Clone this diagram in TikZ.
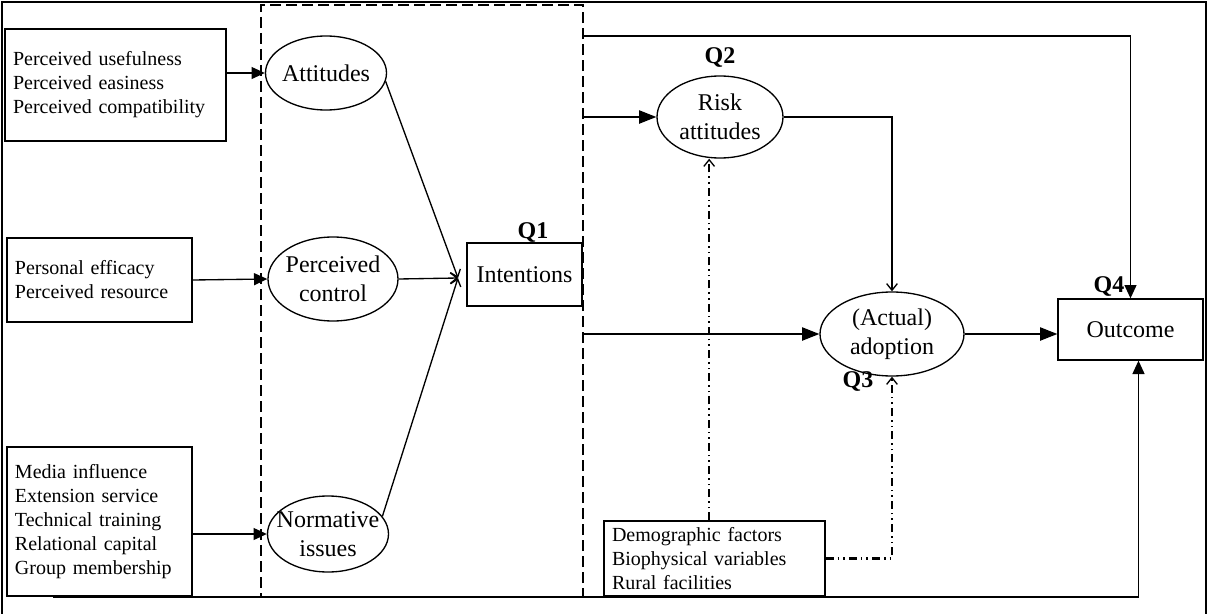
\documentclass[tikz,border=0pt]{standalone}
\usepackage{fontspec}
\setmainfont{Liberation Serif}
\usetikzlibrary{arrows.meta,shapes.geometric}

\tikzset{
  factorbox/.style={draw,line width=1pt,align=left,inner xsep=6pt,font=\fontsize{15}{18}\selectfont},
  mainbox/.style={draw,line width=1pt,font=\fontsize{18}{22}\selectfont},
  oval/.style={draw,ellipse,line width=1pt,inner sep=0pt},
  ovaltext/.style={align=center,inner sep=0pt,font=\fontsize{18}{22}\selectfont},
  qlab/.style={inner sep=0pt,font=\bfseries\fontsize{18}{22}\selectfont},
  arr/.style={-{Triangle[length=10pt,width=9pt]},line width=1pt},
  bigarr/.style={-{Triangle[length=13pt,width=10pt]},line width=1pt},
  barb/.style={-{Straight Barb[length=5pt,width=8pt]},line width=1pt},
  dashdot/.style={line width=1.6pt,dash pattern=on 6pt off 3pt on 1.2pt off 3pt on 1.2pt off 3pt,
    -{Straight Barb[length=5pt,width=8pt,line width=1pt]}}
}

\begin{document}
\begin{tikzpicture}[x=0.75pt,y=-0.75pt]
\useasboundingbox (0,0) rectangle (1208,614);
\draw[line width=1.5pt] (2,614) |- (1206,2) -- (1206,614);

% dashed frame round the behaviour part
\node[draw,line width=2pt,dash pattern=on 8pt off 4pt,minimum width=241.5pt,minimum height=444pt] (tpb) at (422,301) {};

% factor boxes
\node[factorbox,text width=153.75pt,minimum height=84pt] (usef) at (115.5,85)
  {Perceived usefulness\\Perceived easiness\\Perceived compatibility};
\node[factorbox,text width=126.75pt,minimum height=63pt] (effic) at (99.5,280)
  {Personal efficacy\\Perceived resource};
\node[factorbox,text width=126.75pt,minimum height=111.75pt] (media) at (99.5,521.5)
  {Media influence\\Extension service\\Technical training\\Relational capital\\Group membership};
\node[factorbox,text width=153.75pt,minimum height=56.25pt] (demo) at (714.5,558.5)
  {Demographic factors\\Biophysical variables\\Rural facilities};

% ovals
\node[oval,minimum width=90.75pt,minimum height=55.5pt,label={[ovaltext]center:Attitudes}] (att) at (326,73) {};
\node[oval,minimum width=97.5pt,minimum height=63pt,label={[ovaltext]center:Perceived\\control}] (ctrl) at (333,279) {};
\node[oval,minimum width=90.75pt,minimum height=57pt,label={[ovaltext]center:Normative\\issues}] (norm) at (328,534) {};
\node[oval,minimum width=94.5pt,minimum height=61.5pt,label={[ovaltext]center:Risk\\attitudes}] (risk) at (720,117) {};
\node[oval,minimum width=108pt,minimum height=63pt,label={[ovaltext]center:(Actual)\\adoption}] (adopt) at (892,334) {};

% boxes
\node[mainbox,minimum width=86.25pt,minimum height=47.25pt] (intent) at (524.5,274.5) {Intentions};
\node[mainbox,minimum width=108.75pt,minimum height=45.75pt] (outc) at (1130.5,329.5) {Outcome};

% questions
\node[qlab] (q1) at (533,232) {Q1};
\node[qlab] (q2) at (720,57) {Q2};
\node[qlab] (q3) at (858,381) {Q3};
\node[qlab] (q4) at (1109,286) {Q4};

% connectors
\coordinate (meet) at (458,278);
\coordinate (toprail) at (583,36);
\coordinate (botrail) at (53,597);
\draw[arr] (usef.east |- att) -- (att.west);
\draw[arr] (effic.east) -- (ctrl.west);
\draw[arr] (media.east |- norm) -- (norm.west);
\draw[barb] (att.-8) -- (meet);
\draw[barb] (ctrl.east) -- (meet);
\draw[barb] (norm.18) -- (meet);
\draw[bigarr] (tpb.east |- risk) -- (risk.west);
\draw[bigarr] (tpb.east |- adopt) -- (adopt.west);
\draw[barb] (risk.east) -| (adopt.north);
\draw[bigarr] (adopt.east) -- (adopt.east -| outc.west);
\draw[arr] (toprail) -| (outc.north);
\draw[arr] (botrail) -| ([xshift=6pt]outc.south);
\draw[dashdot] ([xshift=-4pt]demo.north) -- ([xshift=-4pt]demo.north |- risk.south);
\draw[dashdot] (demo.east) -| (adopt.south);
\end{tikzpicture}
\end{document}
